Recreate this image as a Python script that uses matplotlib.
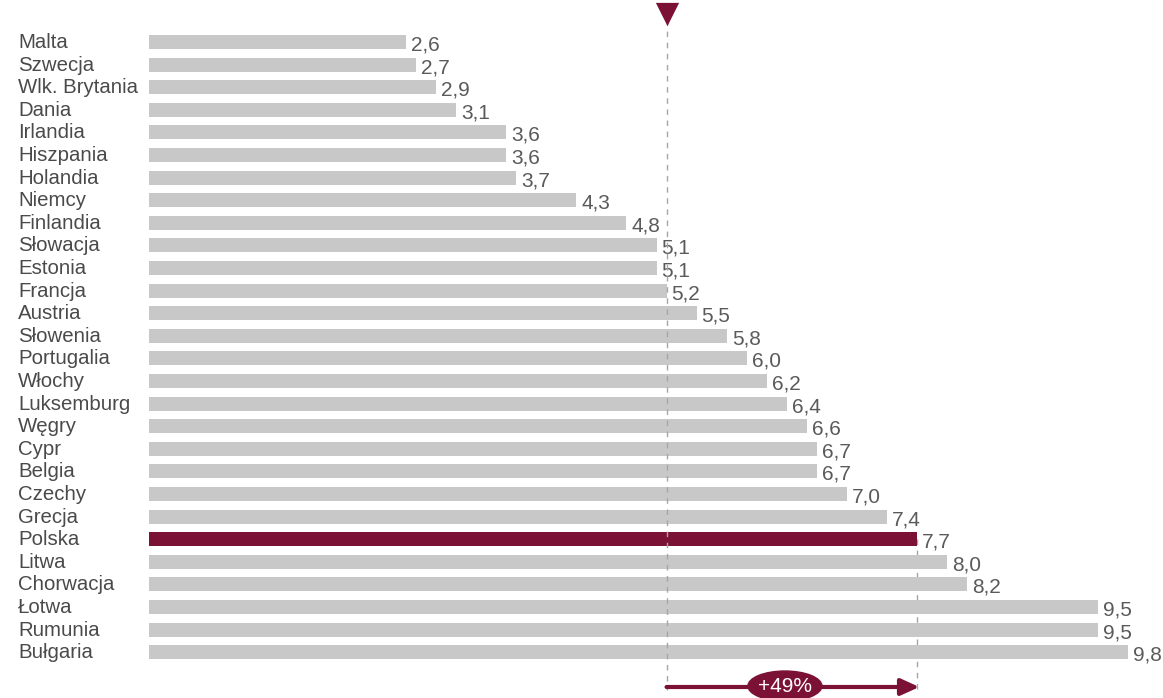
import matplotlib
matplotlib.use("Agg")
import matplotlib.pyplot as plt
from matplotlib.patches import Ellipse

countries = ["Malta", "Szwecja", "Wlk. Brytania", "Dania", "Irlandia", "Hiszpania",
             "Holandia", "Niemcy", "Finlandia", "Słowacja", "Estonia", "Francja",
             "Austria", "Słowenia", "Portugalia", "Włochy", "Luksemburg", "Węgry",
             "Cypr", "Belgia", "Czechy", "Grecja", "Polska", "Litwa", "Chorwacja",
             "Łotwa", "Rumunia", "Bułgaria"]
values = [2.6, 2.7, 2.9, 3.1, 3.6, 3.6, 3.7, 4.3, 4.8, 5.1, 5.1, 5.2, 5.5, 5.8,
          6.0, 6.2, 6.4, 6.6, 6.7, 6.7, 7.0, 7.4, 7.7, 8.0, 8.2, 9.5, 9.5, 9.8]
value_labels = ["2,6", "2,7", "2,9", "3,1", "3,6", "3,6", "3,7", "4,3", "4,8", "5,1",
                "5,1", "5,2", "5,5", "5,8", "6,0", "6,2", "6,4", "6,6", "6,7", "6,7",
                "7,0", "7,4", "7,7", "8,0", "8,2", "9,5", "9,5", "9,8"]
highlight = "Polska"
ref_value = 5.2
pl_value = 7.7
diff_label = "+49%"

W, H = 1163, 698
fig = plt.figure(figsize=(W / 100, H / 100), dpi=100)
ax = fig.add_axes([0, 0, 1, 1])
ax.axis("off")

sx = 100.3      # px per unit
x0 = 145        # px of zero
sy = 22.6       # px per row
y0 = 42         # px of first row
ax.set_xlim(-x0 / sx, (W - x0) / sx)
ax.set_ylim((H - y0) / sy, -y0 / sy)

dark = "#7b1235"
grey_bar = "#c8c8c9"
base = 0.04

ys = list(range(len(countries)))
colors = [dark if c == highlight else grey_bar for c in countries]
ax.barh(ys, [v - base for v in values], left=base, height=14 / sy, color=colors, zorder=2)

for y, c, v, lab in zip(ys, countries, values, value_labels):
    ax.text(18 / sx - x0 / sx, y + 0.5 / sy, c, ha="left", va="center", fontsize=14.7,
            color="#4a4a4a", family="Liberation Sans")
    ax.text(v + 5 / sx, y + 3 / sy, lab, ha="left", va="center", fontsize=15,
            color="#5a5a5a", family="Liberation Sans")

# dashed reference lines
ax.plot([ref_value, ref_value], [(20 - y0) / sy, (690 - y0) / sy], ls=(0, (4, 4)),
        color="#a6a6a6", lw=1, zorder=3)
pl_idx = countries.index(highlight)
ax.plot([pl_value, pl_value], [pl_idx, (692 - y0) / sy], ls=(0, (4, 4)),
        color="#a6a6a6", lw=1, zorder=1)

# triangle marker
ax.scatter([ref_value], [(14 - y0) / sy], marker="v", s=280, color=dark, zorder=4,
           linewidths=0)

# arrow
ya = (687 - y0) / sy
ax.annotate("", xy=(pl_value + 2 / sx, ya), xytext=(ref_value, ya),
            arrowprops=dict(arrowstyle="-|>,head_length=1.1,head_width=0.5",
                            color=dark, lw=3, shrinkA=0, shrinkB=0), zorder=4)
xm = (ref_value + pl_value) / 2 - 0.07
ax.add_patch(Ellipse((xm, (686 - y0) / sy), 74 / sx, 30 / sy, color=dark, zorder=5))
ax.text(xm, (687 - y0) / sy, diff_label, ha="center", va="center", fontsize=15,
        color="white", family="Liberation Sans", zorder=6)

fig.savefig("out.png", dpi=100)
